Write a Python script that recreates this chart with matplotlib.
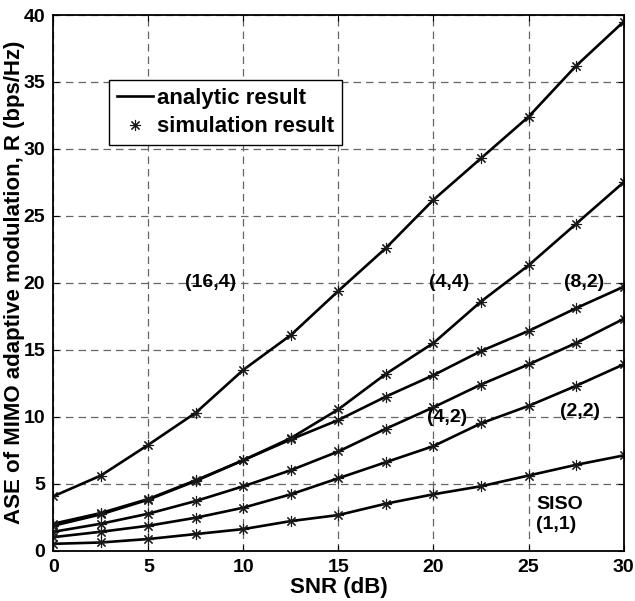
import numpy as np
import matplotlib
matplotlib.use("Agg")
import matplotlib.pyplot as plt

plt.rcParams['font.family'] = ['Liberation Sans', 'DejaVu Sans']
plt.rcParams['font.weight'] = 'bold'

# SNR (dB)
snr = [0, 2.5, 5, 7.5, 10, 12.5, 15, 17.5, 20, 22.5, 25, 27.5, 30]

# ASE (bps/Hz) for each (M,N) configuration
ase_16_4 = [4.05, 5.6, 7.9, 10.3, 13.5, 16.1, 19.4, 22.6, 26.2, 29.3, 32.4, 36.2, 39.5]
ase_4_4 = [2.0, 2.8, 3.85, 5.25, 6.75, 8.4, 10.55, 13.2, 15.5, 18.6, 21.3, 24.4, 27.5]
ase_8_2 = [1.85, 2.7, 3.8, 5.2, 6.75, 8.3, 9.75, 11.5, 13.1, 14.9, 16.4, 18.1, 19.7]
ase_4_2 = [1.4, 2.0, 2.75, 3.7, 4.8, 6.0, 7.4, 9.1, 10.7, 12.4, 13.9, 15.5, 17.3]
ase_2_2 = [1.0, 1.4, 1.85, 2.45, 3.2, 4.2, 5.4, 6.6, 7.8, 9.5, 10.8, 12.3, 13.9]
ase_siso = [0.5, 0.6, 0.86, 1.23, 1.6, 2.2, 2.65, 3.5, 4.2, 4.8, 5.6, 6.4, 7.1]

curves = [ase_16_4, ase_4_4, ase_8_2, ase_4_2, ase_2_2, ase_siso]

fig = plt.figure(figsize=(6.35, 6.01), dpi=100)
ax = fig.add_axes([0.084, 0.084, 0.898, 0.891])

ast = (8, 2, 0)  # matlab-like asterisk
for i, c in enumerate(curves):
    ax.plot(snr, c, color='k', lw=1.9, label='analytic result' if i == 0 else None)
for i, c in enumerate(curves):
    ax.plot(snr, c, ls='none', marker=ast, color='0.1', ms=8, mew=0.8,
            label='simulation result' if i == 0 else None)

ax.set_xlim(0, 30)
ax.set_ylim(0, 40)
ax.set_xticks(range(0, 31, 5))
ax.set_yticks(range(0, 41, 5))
ax.grid(True, color='0.4', ls=(0, (6, 4)), lw=0.9)
ax.tick_params(direction='in', length=4, top=True, right=True, labelsize=14, pad=6)
for s in ax.spines.values():
    s.set_linewidth(1.3)

ax.set_xlabel('SNR (dB)', fontsize=16, fontweight='bold', labelpad=1)
ax.set_ylabel('ASE of MIMO adaptive modulation, R (bps/Hz)', fontsize=16,
              fontweight='bold', labelpad=-1)

kw = dict(fontsize=14, fontweight='bold', ha='center', va='center')
ax.text(8.25, 20.0, '(16,4)', **kw)
ax.text(20.8, 20.0, '(4,4)', **kw)
ax.text(27.9, 20.0, '(8,2)', **kw)
ax.text(20.7, 9.9, '(4,2)', **kw)
ax.text(27.7, 10.4, '(2,2)', **kw)
ax.text(25.4, 2.7, 'SISO\n(1,1)', fontsize=14, fontweight='bold', ha='left',
        va='center', linespacing=1.25)

leg = ax.legend(loc='upper left', bbox_to_anchor=(0.098, 0.879), fontsize=16,
                frameon=True, fancybox=False, framealpha=1, edgecolor='k',
                handlelength=1.6, handletextpad=0.2, borderpad=0.35,
                labelspacing=0.35, borderaxespad=0)
leg.get_frame().set_linewidth(1.0)

fig.savefig('out.png', dpi=100)
